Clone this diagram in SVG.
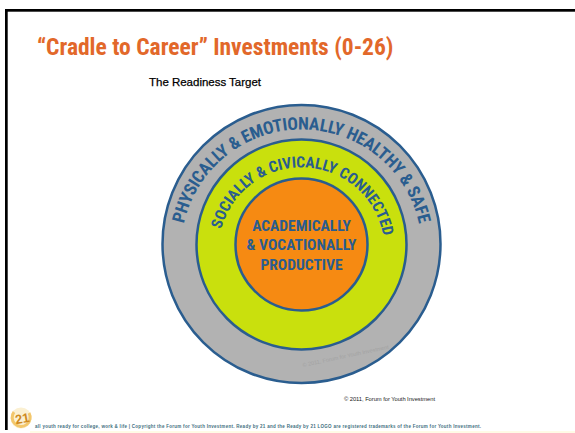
<svg xmlns="http://www.w3.org/2000/svg" xmlns:xlink="http://www.w3.org/1999/xlink" width="575" height="433" viewBox="0 0 575 433">
<style>
.c{stroke:#2a5d8f;stroke-width:2.5}
.b{font-family:"Roboto Condensed",Roboto,sans-serif;font-stretch:75%;font-weight:700;fill:#2a5d8f}
.m{text-anchor:middle;font-size:15.500px}
.a{font-family:"Liberation Sans",Arial,sans-serif}
</style>
<defs>
<path id="po" d="M181.500 239 A120.500 120.500 0 0 1 421.500 239"/>
<path id="pm" d="M218.600 246.300 A83 83 0 0 1 384.400 246.300"/>
</defs>
<rect width="575" height="433" fill="#fff"/>
<rect x="5" y="9" width="570" height="2.700" fill="#000"/>
<rect x="5" y="9" width="2.700" height="421" fill="#000"/>
<rect x="30" y="431" width="545" height="2" fill="#fffbe6"/>
<g id="title"><text x="37" y="55" class="b" font-size="23.500" style="fill:#e2682a">“Cradle to Career” Investments (0-26)</text></g>
<g id="subtitle"><text x="149" y="86" class="a" font-size="11.500" textLength="112" fill="#000" stroke="#000" stroke-width=".25">The Readiness Target</text></g>
<g id="outer"><circle class="c" cx="301.500" cy="244" r="139" fill="#b2b2b2"/>
<text class="b" font-size="17.500" letter-spacing="-.2"><textPath xlink:href="#po" href="#po" startOffset="50%" text-anchor="middle">PHYSICALLY &amp; EMOTIONALLY HEALTHY &amp; SAFE</textPath></text></g>
<g id="middle"><circle class="c" cx="301.500" cy="244.500" r="105" fill="#c9e00d"/>
<text class="b" font-size="15.500"><textPath xlink:href="#pm" href="#pm" startOffset="51.400%" text-anchor="middle">SOCIALLY &amp; CIVICALLY CONNECTED</textPath></text>
<text x="303" y="367" font-family="Liberation Sans,sans-serif" font-size="5.500" fill="#a3a3a3" transform="rotate(-12 303 367)">© 2011, Forum for Youth Investment</text></g>
<g id="inner"><circle class="c" cx="301.500" cy="244.500" r="66" fill="#f68a12"/>
<text x="301.500" y="231" class="b m">ACADEMICALLY</text>
<text x="301.500" y="250" class="b m">&amp; VOCATIONALLY</text>
<text x="301.500" y="269.500" class="b m">PRODUCTIVE</text></g>
<g id="credit"><text x="344" y="401" class="a" font-size="5.800" fill="#222" textLength="91">© 2011, Forum for Youth Investment</text></g>
<g id="logo"><circle cx="21" cy="418" r="10.500" fill="#fbf0d2"/><path d="M14 412 A9 9 0 1 0 29 413" fill="none" stroke="#f3c76c" stroke-width="3"/>
<text x="23" y="423" text-anchor="middle" class="a" font-weight="700" font-size="13" fill="#cf8a1f" transform="rotate(-10 23 423)">21</text></g>
<g id="footer"><text x="35" y="428" class="a" font-weight="700" font-size="4.500" fill="#3f6f80" textLength="446">all youth ready for college, work &amp; life | Copyright the Forum for Youth Investment. Ready by 21 and the Ready by 21 LOGO are registered trademarks of the Forum for Youth Investment.</text></g>
</svg>
